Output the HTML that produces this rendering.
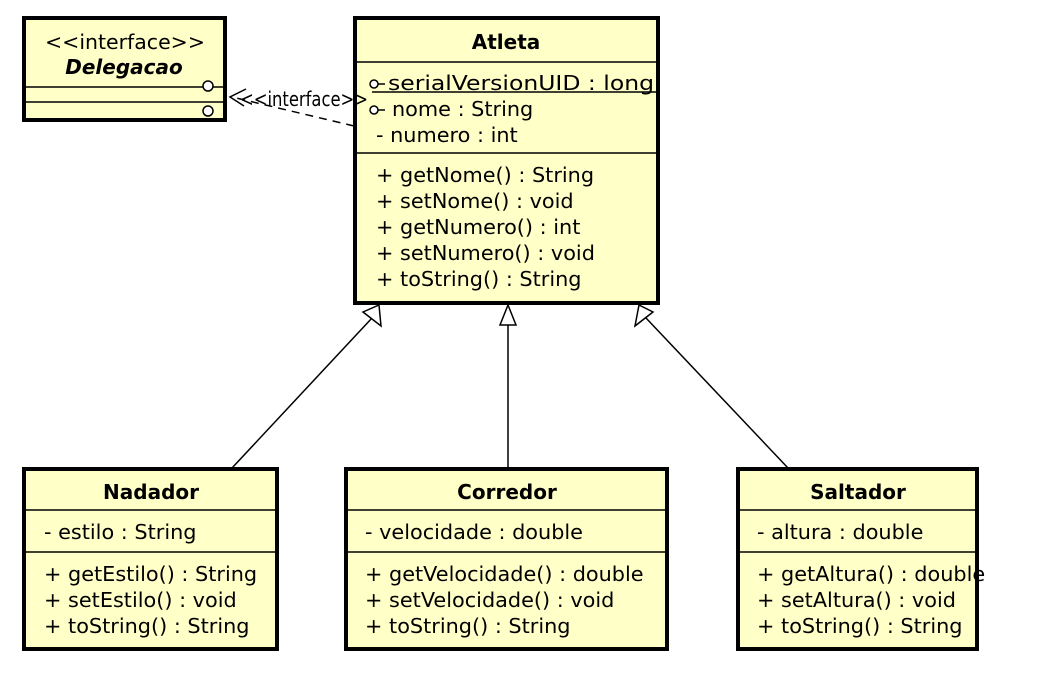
<!DOCTYPE html>
<html><head><meta charset="utf-8"><style>
html,body{margin:0;padding:0;background:#fff;}
svg text{font-family:"DejaVu Sans","Liberation Sans",sans-serif;font-size:20.8px;fill:#000;}
.b{font-weight:bold;font-size:20px;}
</style></head><body>
<svg width="1043" height="683" xmlns="http://www.w3.org/2000/svg">
<g fill="#ffffc8" stroke="#000" stroke-width="4">
<rect x="24" y="18" width="201" height="102"/>
<rect x="355" y="18" width="303" height="285"/>
<rect x="24" y="469" width="253" height="180"/>
<rect x="346" y="469" width="321" height="180"/>
<rect x="738" y="469" width="239" height="180"/>
</g>
<g stroke="#000" stroke-width="1.5" fill="none">
<line x1="24" y1="87" x2="225" y2="87"/>
<line x1="24" y1="102" x2="225" y2="102"/>
<line x1="355" y1="62" x2="658" y2="62"/>
<line x1="355" y1="153" x2="658" y2="153"/>
<line x1="24" y1="510" x2="277" y2="510"/>
<line x1="24" y1="552" x2="277" y2="552"/>
<line x1="346" y1="510" x2="667" y2="510"/>
<line x1="346" y1="552" x2="667" y2="552"/>
<line x1="738" y1="510" x2="977" y2="510"/>
<line x1="738" y1="552" x2="977" y2="552"/>
<line x1="232" y1="468" x2="372" y2="318"/>
<line x1="508" y1="468" x2="508" y2="325"/>
<line x1="788" y1="468" x2="646" y2="318"/>
<polygon points="379,305 381,326 363,312" fill="#fff"/>
<polygon points="508,305 500,325 516,325" fill="#fff"/>
<polygon points="639,305 653,312 635,326" fill="#fff"/>
<line x1="354" y1="126" x2="232" y2="97" stroke-dasharray="8,6"/>
<polyline points="246,89 230,97 244,106" />
<circle cx="208" cy="86" r="5" fill="#fff"/>
<circle cx="208" cy="111" r="5" fill="#fff"/>
<circle cx="374" cy="84" r="4" fill="#fff"/>
<line x1="378" y1="84" x2="385" y2="84"/>
<circle cx="374" cy="110" r="4" fill="#fff"/>
<line x1="378" y1="110" x2="385" y2="110"/>
<line x1="372" y1="92" x2="656" y2="92"/>
</g>
<text x="45" y="49" textLength="160" lengthAdjust="spacingAndGlyphs">&lt;&lt;interface&gt;&gt;</text>
<text x="124" y="74" text-anchor="middle" class="b" font-style="italic">Delegacao</text>
<text x="240" y="106" textLength="128" lengthAdjust="spacingAndGlyphs">&lt;&lt;interface&gt;&gt;</text>
<text x="506" y="49" text-anchor="middle" class="b">Atleta</text>
<text x="388" y="90" textLength="266" lengthAdjust="spacingAndGlyphs">serialVersionUID : long</text>
<text x="392" y="116">nome : String</text>
<text x="376" y="142">- numero : int</text>
<text x="376" y="182">+ getNome() : String</text>
<text x="376" y="208">+ setNome() : void</text>
<text x="376" y="234">+ getNumero() : int</text>
<text x="376" y="260">+ setNumero() : void</text>
<text x="376" y="286">+ toString() : String</text>
<text x="151" y="499" text-anchor="middle" class="b">Nadador</text>
<text x="44" y="539">- estilo : String</text>
<text x="44" y="581">+ getEstilo() : String</text>
<text x="44" y="607">+ setEstilo() : void</text>
<text x="44" y="633">+ toString() : String</text>
<text x="507" y="499" text-anchor="middle" class="b">Corredor</text>
<text x="365" y="539">- velocidade : double</text>
<text x="365" y="581">+ getVelocidade() : double</text>
<text x="365" y="607">+ setVelocidade() : void</text>
<text x="365" y="633">+ toString() : String</text>
<text x="858" y="499" text-anchor="middle" class="b">Saltador</text>
<text x="757" y="539">- altura : double</text>
<text x="757" y="581">+ getAltura() : double</text>
<text x="757" y="607">+ setAltura() : void</text>
<text x="757" y="633">+ toString() : String</text>
</svg>
</body></html>
